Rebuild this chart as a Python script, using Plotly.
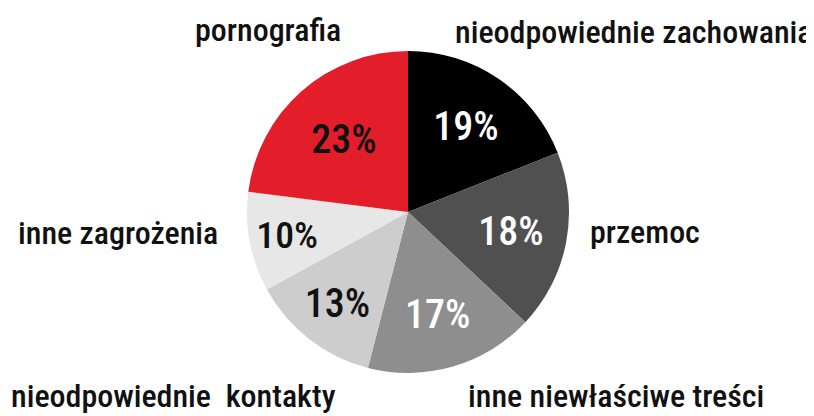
import plotly.graph_objects as go

categories = ["nieodpowiednie zachowania", "przemoc", "inne niewłaściwe treści",
              "nieodpowiednie  kontakty", "inne zagrożenia", "pornografia"]
values = [19, 18, 17, 13, 10, 23]
slice_colors = ["#000000", "#505050", "#8e8e8e", "#cdcdcd", "#e7e7e7", "#e31e2a"]
text_colors = ["#ffffff", "#ffffff", "#ffffff", "#111111", "#111111", "#111111"]

# The page body has an 8px margin, so the figure is sized to the visible area.
W, H = 806, 408
# category label positions in figure pixels (x centre, y, vertical anchor)
label_px = [(625.5, 24, "middle"), (637, 224, "middle"), (608, 408, "bottom"),
            (165.5, 408, "bottom"), (110.5, 225, "middle"), (259.5, 22, "middle")]

FONT = "Roboto Condensed, Open Sans Condensed, DejaVu Sans Condensed, sans-serif"

fig = go.Figure(go.Pie(
    labels=categories,
    values=values,
    sort=False,
    direction="clockwise",
    rotation=0,
    marker=dict(colors=slice_colors, line=dict(width=0)),
    texttemplate="%{percent:.0%}",
    textposition="inside",
    insidetextorientation="horizontal",
    textfont=dict(family=FONT, size=40, color=text_colors, weight=500),
    domain=dict(x=[239 / W, 561 / W], y=[1 - 365 / H, 1 - 43 / H]),
    showlegend=False,
    hoverinfo="label+percent",
))

for name, (px, py, va) in zip(categories, label_px):
    fig.add_annotation(
        x=px / W, y=1 - py / H, xref="paper", yref="paper",
        text=name, showarrow=False,
        xanchor="center", yanchor=va, borderpad=0,
        font=dict(family=FONT, size=32, color="#111111", weight=500),
    )

fig.update_layout(
    width=W, height=H,
    margin=dict(l=0, r=0, t=0, b=0),
    paper_bgcolor="white",
    plot_bgcolor="white",
)

fig.write_html("out.html")
